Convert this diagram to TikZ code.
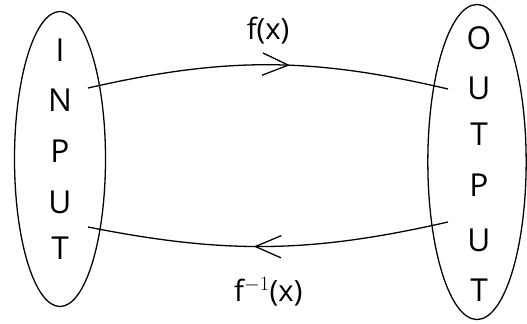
\documentclass[tikz,border=0pt]{standalone}
\usepackage{fontspec}
\setmainfont{Open Sans}
\usetikzlibrary{arrows.meta,decorations.markings,shapes.geometric}

\begin{document}
\begin{tikzpicture}[x=0.03cm,y=-0.03cm,line width=1.1pt,
  let/.style={font=\fontsize{27}{27}\selectfont,inner sep=0pt},
  lbl/.style={font=\fontsize{25}{25}\selectfont,inner sep=0pt},
  set/.style={ellipse,draw,inner sep=0pt},
  midarrow/.style={postaction={decorate,decoration={markings,
      mark=at position #1 with {\arrow{Straight Barb[length=22pt,width=19pt]}}}}}]
      \useasboundingbox (0,0) rectangle (527,323);

      \node[set,minimum width=2.73cm,minimum height=8.85cm] (inp) at (60,159) {};
      \node[set,minimum width=2.95cm,minimum height=9.45cm] (outp) at (477,162) {};

      \node[let] (i1) at (60,50) {I};
      \node[let] (i2) at (60,100) {N};
      \node[let] (i3) at (60,151) {P};
      \node[let] (i4) at (60,202) {U};
      \node[let] (i5) at (60,248) {T};

      \node[let] (o1) at (479,38) {O};
      \node[let] (o2) at (479,88) {U};
      \node[let] (o3) at (479,134) {T};
      \node[let] (o4) at (479,185) {P};
      \node[let] (o5) at (479,240) {U};
      \node[let] (o6) at (479,290) {T};

      \coordinate (a1) at (88,88);
      \coordinate (a2) at (88,227);
      \coordinate (b1) at (448,89);
      \coordinate (b2) at (448,222);

      \draw[midarrow=0.56] (a1) to[bend left=13] node[lbl,above=17pt] (fx) {f(x)} (b1);
      \draw[midarrow=0.54] (b2) to[bend left=12] node[lbl,below=26pt] (fix) {f$^{-1}$(x)} (a2);
     \end{tikzpicture}
\end{document}
